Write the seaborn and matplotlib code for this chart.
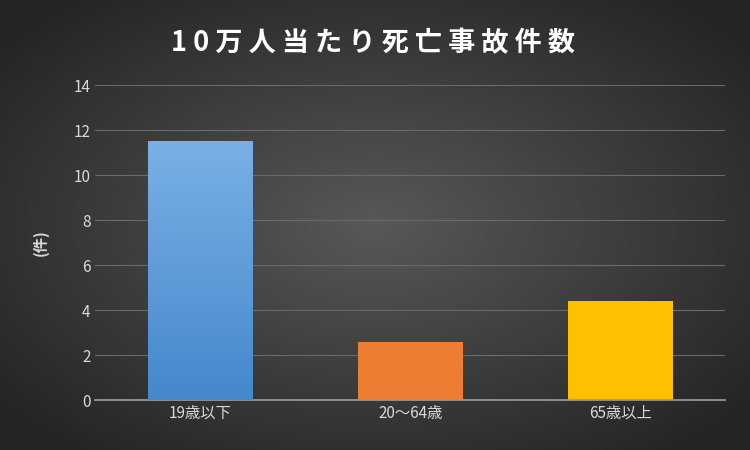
import matplotlib
matplotlib.use("Agg")
import matplotlib.pyplot as plt
import seaborn as sns
import numpy as np
import pandas as pd

categories = ["19歳以下", "20～64歳", "65歳以上"]
values = [11.5, 2.6, 4.4]
title = "10万人当たり死亡事故件数"
colors = ["#5b9bd5", "#ed7d31", "#ffc000"]

sns.set_theme(style="dark")
plt.rcParams['font.family'] = ['Noto Sans CJK JP', 'DejaVu Sans']

fig = plt.figure(figsize=(7.5, 4.5), dpi=100)
bg = fig.add_axes([0, 0, 1, 1], zorder=0)
yy, xx = np.mgrid[-1:1:300j, -1:1:500j]
r = np.sqrt(xx**2 + yy**2)
r = np.clip(r / 1.3, 0, 1)
c0 = np.array([0x58, 0x58, 0x58]) / 255
c1 = np.array([0x24, 0x24, 0x24]) / 255
img = c0[None, None, :] * (1 - r[..., None]) + c1[None, None, :] * r[..., None]
bg.imshow(img, aspect="auto", extent=[0, 1, 0, 1])
bg.axis("off")

ax = fig.add_axes([0.127, 0.111, 0.84, 0.70], zorder=1)
ax.patch.set_alpha(0)
df = pd.DataFrame({"cat": categories, "val": values})
sns.barplot(data=df, x="cat", y="val", hue="cat", palette=colors, ax=ax, width=0.5,
            legend=False, saturation=1, linewidth=0, edgecolor="none")

p = ax.patches[0]
x0, y0 = p.get_x(), p.get_y()
w, h = p.get_width(), p.get_height()
grad = np.linspace(0, 1, 256)[:, None]
top = np.array([0x7a, 0xb0, 0xe6]) / 255
bot = np.array([0x44, 0x88, 0xcc]) / 255
gimg = top[None, None, :] * (1 - grad[..., None]) + bot[None, None, :] * grad[..., None]
gimg = np.repeat(gimg, 2, axis=1)
im = ax.imshow(gimg, extent=[x0, x0 + w, y0, y0 + h], aspect="auto", zorder=3)
im.set_clip_path(p)
ax.set_xlim(-0.5, 2.5)

ax.set_ylim(0, 14)
ax.set_yticks(range(0, 15, 2))
ax.yaxis.grid(True, color="#6a6a6a", linewidth=0.8)
ax.xaxis.grid(False)
ax.set_axisbelow(True)
for s in ["top", "right", "left"]:
    ax.spines[s].set_visible(False)
ax.spines["bottom"].set_color("#9a9a9a")
ax.tick_params(colors="#d9d9d9", labelsize=11, length=0)
ax.set_xlabel("")
ax.set_ylabel("(件)", color="#d9d9d9", fontsize=11, fontweight="bold", labelpad=18)
fig.text(0.497, 0.905, " ".join(title), ha="center", va="center", color="white",
         fontsize=19.5, fontweight="bold")
fig.savefig("out.png", dpi=100)
